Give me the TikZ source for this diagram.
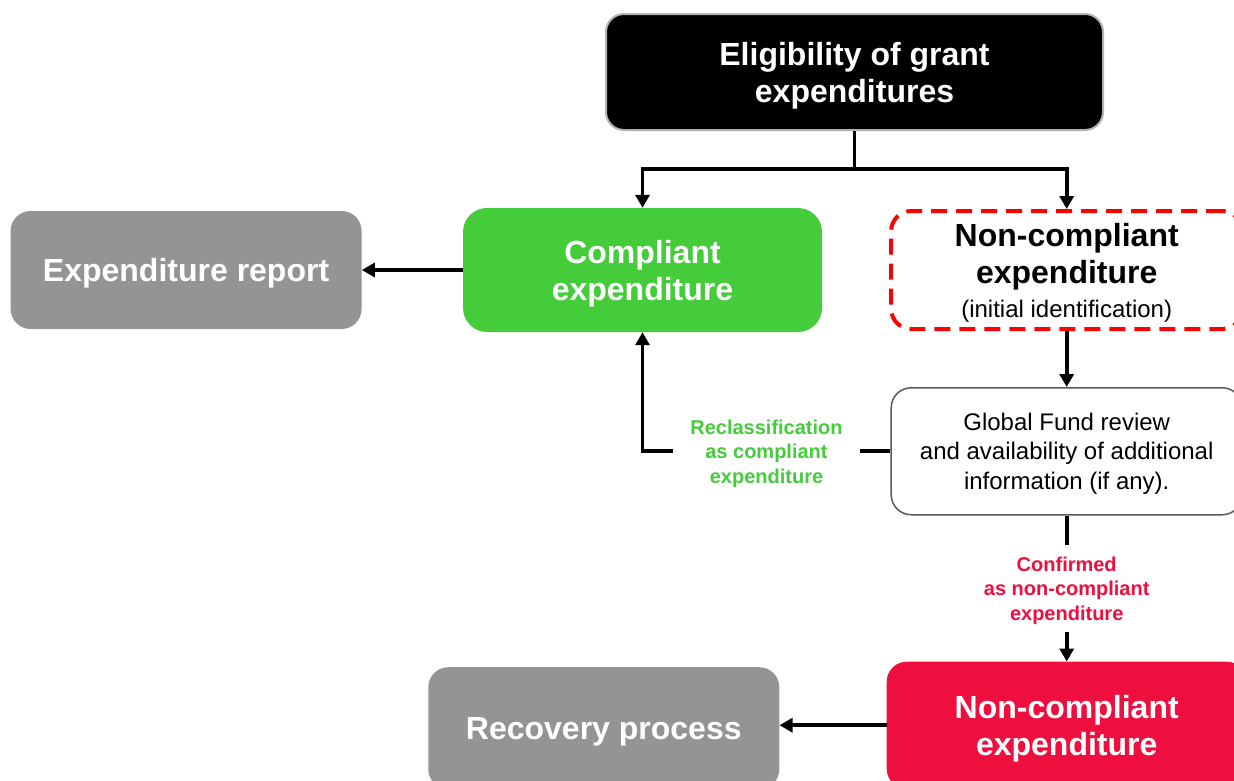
\documentclass[tikz,border=0pt]{standalone}
\usepackage{fontspec}
\setmainfont{Liberation Sans}
\usepackage{xcolor}
\usetikzlibrary{positioning,arrows.meta}
\definecolor{okgreen}{RGB}{68,204,58}
\definecolor{badred}{RGB}{238,15,62}
\definecolor{boxgray}{RGB}{148,148,148}
\tikzset{
>={Triangle[length=13pt,width=14pt]},
  line/.style={draw, line width=3.8pt, ->},
  block/.style={
    rectangle,
    rounded corners=20pt,
    minimum width=351pt,
    minimum height=118pt,
    text depth=0pt,
    align=center},
  bigtext/.style={font=\fontsize{32pt}{37pt}\selectfont\bfseries},
  smalltext/.style={font=\fontsize{24pt}{29.5pt}\selectfont},
  tag/.style={
    fill=white,
    font=\fontsize{20pt}{24.5pt}\selectfont\bfseries,
    align=center,
    text depth=0pt,
    inner xsep=17pt,
    inner ysep=12pt},
}

\begin{document}
\begin{tikzpicture}[node distance=1cm, x=1pt, y=1pt]
  \useasboundingbox (0,0) rectangle (1234,-780);
  \clip (0,0) rectangle (1234,-780);
  \tikzset{
      gray block/.style={block, bigtext, fill=boxgray, text=white},
      red dash block/.style={block, bigtext, draw=red, line width=4pt, dash pattern=on 16pt off 9pt},
  }
  \node[block, bigtext, fill=black, text=white, draw=gray!60, line width=2pt,
        minimum width=497pt, minimum height=116pt, rounded corners=18pt] (elig) at (854.5,-72) {Eligibility of grant\\expenditures};
  \node[block, bigtext, fill=okgreen, text=white, minimum width=359pt,
        minimum height=124pt, rounded corners=24pt] (comp) at (642.5,-270) {Compliant\\expenditure};
  \node[gray block, left=101pt of comp] (report) {Expenditure report};
  \node[red dash block, right=67pt of comp] (noncomp) {Non-compliant\\expenditure\\[-3pt]{\fontsize{24pt}{29pt}\selectfont\mdseries (initial identification)}};
  \node[block, smalltext, fill=white, draw=gray!70!black, line width=1.5pt,
        minimum height=127pt, below=56pt of noncomp] (review) {Global Fund review\\and availability of additional\\information (if any).};
  \node[block, bigtext, fill=badred, text=white, minimum width=360pt,
        minimum height=127pt, below=146pt of review] (confirmed) {Non-compliant\\expenditure};
  \node[gray block, minimum height=122pt, left=107pt of confirmed, yshift=-3pt] (recovery) {Recovery process};

  \path[line] (elig.south) -- ++(0,-38) coordinate (fork) -| (comp.north);
  \path[line] (fork) -| (noncomp.north);
  \path[line] (comp) -- (report);
  \path[line] (noncomp) -- (review);
  \path[line] (review.west) -| node[tag, text=okgreen, pos=0.25] {Reclassification\\as compliant\\expenditure} (comp.south);
  \path[line] (review) -- node[tag, text=badred] {Confirmed\\as non-compliant\\expenditure} (confirmed);
  \path[line] (confirmed) -- (recovery.east |- confirmed);
\end{tikzpicture}
\end{document}
